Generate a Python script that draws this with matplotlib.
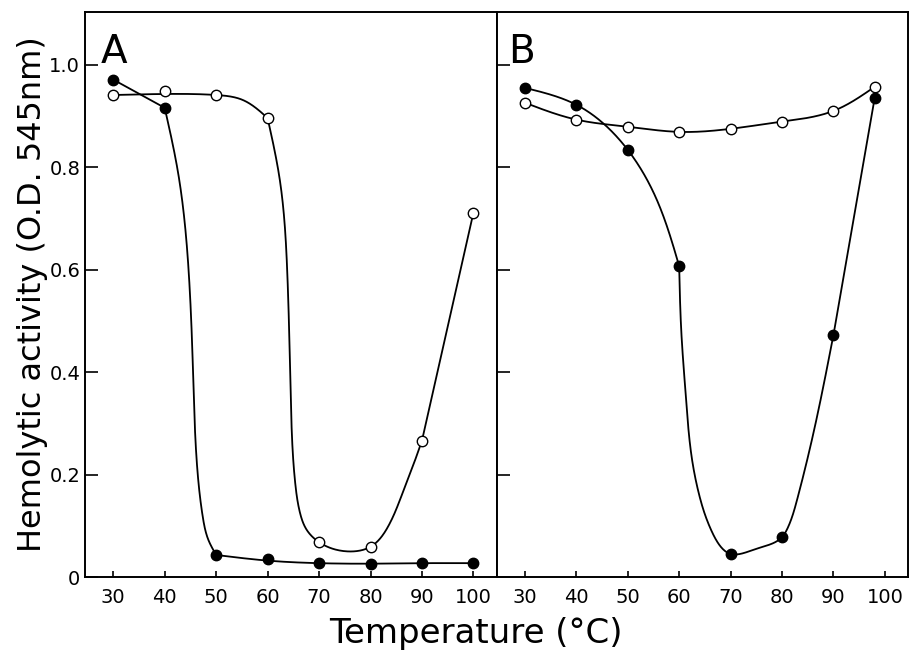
import numpy as np
import matplotlib
matplotlib.use('Agg')
import matplotlib.pyplot as plt

# measured points
temps = [30, 40, 50, 60, 70, 80, 90, 100]
a_filled = [0.971, 0.916, 0.043, 0.035, 0.027, 0.025, 0.027, 0.027]
a_open = [0.941, 0.948, 0.941, 0.896, 0.068, 0.059, 0.266, 0.711]

temps_b = [30, 40, 50, 60, 70, 80, 90, 98]
b_filled = [0.955, 0.922, 0.834, 0.607, 0.045, 0.078, 0.473, 0.935]
b_open = [0.926, 0.893, 0.879, 0.869, 0.875, 0.889, 0.910, 0.957]

# hand-drawn curves; corners = where the pen line bends sharply
a_filled_cx = [30, 40, 42.5, 44.6, 45.5, 46.3, 47.4, 48.5, 50, 60, 70, 80, 90, 100]
a_filled_cy = [0.971, 0.916, 0.795, 0.605, 0.40, 0.215, 0.117, 0.072, 0.043, 0.032, 0.027, 0.026, 0.027, 0.027]
a_filled_corners = [40, 50]
a_open_cx = [30, 40, 50, 55, 60, 62.3, 63.8, 64.5, 65.4, 66.3, 67.6, 70, 75.5, 80, 83.5, 86.2, 88, 90, 100]
a_open_cy = [0.941, 0.943, 0.941, 0.932, 0.896, 0.78, 0.60, 0.35, 0.18, 0.125, 0.092, 0.068, 0.050, 0.059,
             0.10, 0.163, 0.21, 0.266, 0.711]
a_open_corners = [60, 90]
b_filled_cx = [30, 40, 50, 55.5, 60, 60.4, 61.3, 62.6, 64.0, 66.2, 70, 75, 80, 81.2, 82.9, 86.1, 90, 98]
b_filled_cy = [0.955, 0.922, 0.834, 0.74, 0.607, 0.482, 0.352, 0.223, 0.156, 0.092, 0.045, 0.055, 0.078, 0.098,
               0.15, 0.281, 0.473, 0.935]
b_filled_corners = [60, 90]
b_open_cx = temps_b
b_open_cy = b_open
b_open_corners = []

xticks = [30, 40, 50, 60, 70, 80, 90, 100]
yticks = [0, 0.2, 0.4, 0.6, 0.8, 1.0]
yticklabels = ['0', '0.2', '0.4', '0.6', '0.8', '1.0']

SX, SY = 5.13, 512.0  # rough px per data unit, so the spline is smooth on screen


def natural_spline(t, v, tt):
    n = len(t)
    if n == 2:
        return np.interp(tt, t, v)
    h = np.diff(t)
    A = np.zeros((n, n))
    r = np.zeros(n)
    A[0, 0] = A[-1, -1] = 1
    for i in range(1, n - 1):
        A[i, i - 1] = h[i - 1]
        A[i, i] = 2 * (h[i - 1] + h[i])
        A[i, i + 1] = h[i]
        r[i] = 6 * ((v[i + 1] - v[i]) / h[i] - (v[i] - v[i - 1]) / h[i - 1])
    M = np.linalg.solve(A, r)
    i = np.clip(np.searchsorted(t, tt) - 1, 0, n - 2)
    hi = h[i]
    a = t[i + 1] - tt
    b = tt - t[i]
    return (M[i] * a**3 + M[i + 1] * b**3) / (6 * hi) + (v[i] / hi - M[i] * hi / 6) * a \
        + (v[i + 1] / hi - M[i + 1] * hi / 6) * b


def curve(ax, cx, cy, corners):
    cx = np.asarray(cx, float)
    cy = np.asarray(cy, float)
    cuts = [0] + [int(np.where(cx == c)[0][0]) for c in corners] + [len(cx) - 1]
    for s, e in zip(cuts[:-1], cuts[1:]):
        px, py = cx[s:e + 1] * SX, cy[s:e + 1] * SY
        t = np.concatenate([[0], np.cumsum(np.hypot(np.diff(px), np.diff(py)))])
        tt = np.linspace(0, t[-1], 600)
        ax.plot(natural_spline(t, px, tt) / SX, natural_spline(t, py, tt) / SY,
                color='black', lw=1.3, zorder=2, solid_capstyle='round')


fig = plt.figure(figsize=(9.09, 6.5), dpi=100)
gs = fig.add_gridspec(1, 2, left=0.0935, right=0.999, top=0.9815, bottom=0.1123, wspace=0)
axA = fig.add_subplot(gs[0])
axB = fig.add_subplot(gs[1], sharey=axA)

mk = dict(marker='o', ms=7.5, ls='none', zorder=3)
curve(axA, a_filled_cx, a_filled_cy, a_filled_corners)
curve(axA, a_open_cx, a_open_cy, a_open_corners)
axA.plot(temps, a_filled, mfc='black', mec='black', **mk)
axA.plot(temps, a_open, mfc='white', mec='black', mew=1.0, **mk)

curve(axB, b_filled_cx, b_filled_cy, b_filled_corners)
curve(axB, b_open_cx, b_open_cy, b_open_corners)
axB.plot(temps_b, b_open, mfc='white', mec='black', mew=1.0, **mk)
axB.plot(temps_b, b_filled, mfc='black', mec='black', **mk)

for ax, lab, lx in [(axA, 'A', 0.037), (axB, 'B', 0.027)]:
    ax.set_xlim(24.5, 104.5)
    ax.set_xticks(xticks)
    ax.tick_params(axis='x', direction='in', length=4, width=1.2, labelsize=14, pad=8)
    ax.tick_params(axis='y', direction='in', length=9, width=1.2, labelsize=14)
    ax.tick_params(top=False, right=False)
    for s in ax.spines.values():
        s.set_linewidth(1.4)
    ax.text(lx, 0.962, lab, transform=ax.transAxes, fontsize=28, va='top', ha='left')

axA.set_ylim(0, 1.103)
axA.set_yticks(yticks)
axA.set_yticklabels(yticklabels)
plt.setp(axB.get_yticklabels(), visible=False)

axA.set_ylabel('Hemolytic activity (O.D. 545nm)', fontsize=23, labelpad=1)
fig.text(0.524, 0.025, 'Temperature (°C)', fontsize=24.5, ha='center', va='center')

plt.savefig('out.png', dpi=100)
